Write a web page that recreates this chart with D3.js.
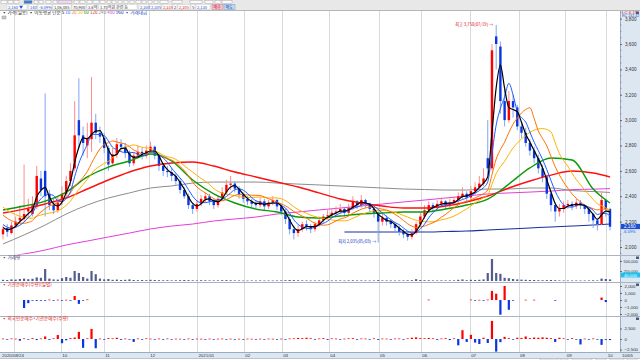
<!DOCTYPE html>
<html><head><meta charset="utf-8">
<script src="https://cdn.jsdelivr.net/npm/d3@7"></script>
<style>body{margin:0;background:#fff;overflow:hidden}svg{display:block}</style>
</head><body><svg id="c" width="640" height="360"></svg>
<script>
// ---------- DATA ----------
const openP = [2100,2150,2110,2170,2210,2220,2280,2260,2320,2540,
2600,2420,2330,2290,2360,2420,2520,2620,3000,2880,
2800,2850,2980,2900,2860,2780,2660,2730,2810,2790,
2740,2660,2720,2750,2720,2760,2790,2720,2640,2600,
2590,2560,2520,2450,2400,2330,2300,2340,2380,2400,
2360,2330,2380,2430,2490,2500,2460,2410,2380,2360,
2340,2330,2360,2320,2350,2370,2320,2280,2220,2140,
2110,2140,2180,2160,2140,2180,2210,2240,2250,2270,
2280,2300,2270,2310,2360,2330,2370,2340,2300,2270,
2200,2230,2200,2180,2150,2120,2100,2080,2110,2180,
2240,2290,2330,2310,2340,2360,2330,2350,2370,2400,
2420,2390,2440,2470,2500,2700,2620,3660,3580,3150,
3000,3150,3100,2950,2900,2820,2760,2700,2620,2550,
2420,2330,2280,2300,2330,2340,2320,2350,2330,2300,
2260,2210,2180,2370,2300];
const highP = [2170,2180,2200,2240,2330,2650,2380,2400,2640,2600,
3210,2450,2380,2400,2480,2560,2660,3150,3330,2950,
2980,3340,3050,2950,2900,2800,2780,2860,2850,2820,
2760,2750,2800,2780,2800,2830,2800,2730,2660,2640,
2620,2580,2540,2470,2420,2350,2370,2410,2430,2420,
2380,2400,2470,2530,2560,2520,2480,2430,2400,2380,
2370,2390,2380,2370,2400,2380,2340,2300,2240,2170,
2170,2200,2210,2180,2200,2240,2260,2290,2300,2320,
2340,2310,2340,2400,2370,2410,2380,2350,2310,2280,
2260,2250,2220,2200,2170,2140,2120,2140,2200,2270,
2330,2360,2350,2370,2390,2370,2380,2400,2430,2470,
2440,2480,2510,2560,2620,3000,3600,3750,3620,3250,
3230,3200,3120,2990,2940,2850,2790,2730,2650,2570,
2440,2350,2340,2360,2370,2360,2380,2370,2340,2310,
2270,2230,2440,2380,2310];
const lowP = [2060,2080,2100,2150,2180,2200,2230,2240,2300,2400,
2240,2290,2260,2270,2330,2400,2480,2600,2780,2720,
2700,2750,2850,2820,2740,2600,2640,2700,2760,2700,
2630,2640,2700,2690,2700,2740,2690,2600,2560,2550,
2520,2490,2420,2380,2300,2260,2280,2320,2350,2330,
2300,2310,2360,2410,2450,2430,2380,2350,2330,2310,
2300,2310,2290,2300,2330,2290,2250,2180,2100,2060,
2080,2120,2130,2110,2120,2160,2190,2220,2230,2250,
2260,2240,2250,2290,2300,2310,2310,2270,2230,2035,
2170,2170,2150,2120,2090,2070,2050,2060,2100,2160,
2220,2270,2280,2290,2320,2300,2310,2330,2340,2380,
2360,2370,2420,2450,2480,2560,2600,3400,3050,2950,
2980,3020,2920,2860,2790,2720,2660,2580,2510,2380,
2280,2200,2240,2270,2300,2290,2300,2300,2260,2200,
2150,2130,2170,2240,2130];
const closeP = [2140,2120,2170,2200,2230,2260,2300,2330,2560,2450,
2400,2330,2290,2350,2420,2520,2600,2880,2880,2820,
2860,2980,2900,2870,2780,2650,2730,2810,2790,2740,
2660,2720,2750,2720,2760,2790,2720,2640,2600,2590,
2560,2520,2450,2400,2330,2300,2340,2380,2400,2360,
2330,2380,2430,2490,2500,2460,2410,2380,2360,2340,
2330,2360,2320,2350,2370,2320,2280,2220,2140,2110,
2140,2180,2160,2140,2180,2210,2240,2250,2270,2280,
2300,2270,2310,2360,2330,2370,2340,2300,2270,2200,
2230,2200,2180,2150,2120,2100,2080,2110,2180,2240,
2290,2330,2310,2340,2360,2330,2350,2370,2400,2420,
2390,2440,2470,2500,2540,2620,3550,3600,3150,3000,
3150,3100,2950,2900,2820,2760,2700,2620,2550,2420,
2330,2280,2300,2330,2340,2320,2350,2330,2300,2260,
2210,2180,2370,2300,2160];
const seedCloses = [2480,2470,2450,2440,2420,2400,2380,2350,2330,2300,2270,2230,2200,2170,2150];
const volume = [30000,25000,40000,35000,50000,60000,45000,55000,90000,80000,
300000,60000,40000,35000,70000,100000,80000,250000,200000,100000,
60000,250000,170000,60000,40000,50000,30000,35000,25000,30000,
40000,25000,20000,25000,20000,30000,25000,20000,18000,20000,
15000,18000,20000,25000,22000,18000,15000,20000,18000,15000,
14000,16000,20000,22000,18000,15000,14000,12000,12000,14000,
12000,15000,12000,13000,12000,14000,16000,20000,25000,22000,
18000,15000,14000,12000,13000,15000,14000,12000,13000,14000,
15000,12000,16000,18000,14000,15000,13000,12000,14000,22000,
15000,14000,13000,12000,14000,15000,18000,20000,45000,25000,
20000,18000,15000,14000,16000,15000,14000,16000,30000,40000,
20000,30000,25000,30000,40000,200000,550000,200000,180000,80000,
70000,50000,40000,35000,30000,25000,25000,20000,20000,22000,
25000,20000,15000,14000,13000,12000,14000,12000,13000,15000,
18000,15000,60000,50000,40000];
const instNet = [null,null,null,null,null,-1150,-450,-100,-120,-60,
-80,60,-40,50,-60,40,-50,570,-550,-100,
80,null,null,null,null,null,null,null,null,null,
null,null,null,null,null,null,null,null,null,null,
null,null,null,null,null,null,null,null,null,null,
null,null,null,null,null,null,null,null,null,null,
null,null,null,null,null,null,null,null,null,null,
null,null,null,null,null,null,null,null,null,null,
null,null,null,null,null,null,null,null,null,null,
null,null,null,null,null,null,null,null,null,null,
null,60,null,null,null,null,null,null,null,null,
null,60,-40,30,-50,60,1300,900,-2100,2000,
-1400,-60,null,null,40,null,40,null,null,null,
null,-60,null,null,null,null,null,null,null,null,
null,null,350,-300,null];
const frgnNet = [100,-150,120,80,-400,150,-100,200,-250,120,
600,-200,150,950,-1000,-300,200,350,1700,-2100,
150,2400,-2200,100,-150,200,150,300,-200,100,
-150,-700,120,-100,150,80,-120,100,-80,120,
-100,80,60,-90,100,-70,80,60,-60,90,
-80,70,100,-60,80,-90,60,-70,80,60,
-80,70,-60,90,60,-70,80,-100,120,150,
250,200,300,180,-150,120,200,-200,150,100,
-120,90,150,200,-150,120,100,-100,150,-200,
100,80,-90,100,120,-100,150,300,400,200,
180,250,150,-200,120,200,-250,150,-1500,2100,
-700,1000,-850,-1200,300,-950,4300,-3000,-750,500,
200,-150,300,250,600,200,350,300,400,300,
200,-700,300,150,-100,200,-150,-1300,100,-150,
120,-100,-1400,-200,-250];
const longIdx = [0,5,10,15,20,25,30,35,40,45,50,55,60,65,70,75,80,85,90,95,100,105,110,115,120,125,130,135,140,144];
const ma60 = [2292,2323,2362,2433,2552,2630,2678,2733,2678,2528,2418,2347,2299,2276,2236,2228,2244,2260,2268,2276,2276,2299,2331,2378,2496,2623,2701,2686,2457,2347];
const ma120 = [2268,2299,2339,2386,2457,2528,2591,2638,2662,2670,2638,2591,2552,2512,2473,2426,2378,2347,2323,2307,2307,2323,2355,2402,2465,2520,2567,2599,2583,2552];
const ma240 = [2024,2095,2173,2260,2331,2386,2426,2465,2481,2504,2512,2512,2512,2504,2496,2489,2481,2473,2465,2457,2453,2449,2449,2457,2457,2465,2465,2445,2437,2430];
const ma480 = [1921,1945,1976,2016,2047,2079,2110,2142,2165,2181,2205,2221,2236,2260,2276,2292,2307,2323,2339,2355,2370,2386,2402,2418,2426,2433,2441,2452,2456,2460];
const navyIdx = [81,85,90,95,100,105,110,115,120,125,130,135,140,144];
const navyVal = [2118,2118,2118,2118,2118,2122,2126,2134,2142,2150,2158,2165,2173,2181];
const monthIdx = [2.6,13.7,23.9,34.6,46,57.1,66.1,77.3,89.1,99.1,110.7,122.3,133.4,143.1];
const monthLabels = ["","10","11","12","2021/01","02","03","04","05","06","07","08","09","10"];
const startLabel = "2020/08/24", endLabel = "10/05";
const priceTicks = [2000,2200,2400,2600,2800,3000,3200,3400,3600,3800];
const volTicks = [250000,500000];
const instTicks = [-2000,-1000,0,1000,2000];
const frgnTicks = [-2500,0,2500];

// ---------- DRAW ----------
const svg = d3.select("#c");
const KR = "'Noto Sans CJK KR','Noto Sans',sans-serif";
const NUM = "'Liberation Sans','DejaVu Sans',sans-serif";
const UP = "#ff0000", DN = "#0a36e0", UPW = "#ff8c8c", DNW = "#7fa6f2";
svg.append("rect").attr("width",640).attr("height",360).attr("fill","#fff");

const x = d3.scaleLinear().domain([0, closeP.length-1]).range([3, 610]);
const y = d3.scaleLinear().domain([2000, 3600]).range([247, 44]);
const yVol = d3.scaleLinear().domain([0, 500000]).range([281, 261]);
const yInst = d3.scaleLinear().domain([-2000, 2000]).range([314, 286]);
const yFrgn = d3.scaleLinear().domain([-2500, 2500]).range([349.5, 328.5]);

const defs = svg.append("defs");
defs.append("clipPath").attr("id","cm").append("rect").attr("x",0).attr("y",11).attr("width",620).attr("height",243.5);
defs.append("clipPath").attr("id","cv").append("rect").attr("x",0).attr("y",256).attr("width",620).attr("height",26);
defs.append("clipPath").attr("id","ci").append("rect").attr("x",0).attr("y",283).attr("width",620).attr("height",32.5);
defs.append("clipPath").attr("id","cf").append("rect").attr("x",0).attr("y",317).attr("width",620).attr("height",35);

// right axis background and date band
svg.append("rect").attr("x",620).attr("y",10).attr("width",20).attr("height",342).attr("fill","#dde7f2");
svg.append("line").attr("x1",620.5).attr("x2",620.5).attr("y1",10).attr("y2",352).attr("stroke","#9aabc4");
svg.append("rect").attr("x",0).attr("y",352).attr("width",640).attr("height",6).attr("fill","#dde7f2");
svg.append("line").attr("x1",0).attr("x2",640).attr("y1",352.5).attr("y2",352.5).attr("stroke","#9aabc4");
svg.append("line").attr("x1",0).attr("x2",640).attr("y1",358.5).attr("y2",358.5).attr("stroke","#b8c4d4");

// month gridlines
svg.append("g").selectAll("line").data(monthIdx).join("line")
  .attr("x1",d=>Math.round(x(d))+0.5).attr("x2",d=>Math.round(x(d))+0.5)
  .attr("y1",10).attr("y2",352).attr("stroke","#dadada").attr("stroke-width",1);

// panel separators
[255.5,282.5,316.5].forEach(v=>svg.append("line").attr("x1",0).attr("x2",640).attr("y1",v).attr("y2",v).attr("stroke","#a9b3c2"));

// ---------- main chart ----------
const gm = svg.append("g").attr("clip-path","url(#cm)");
const idx = d3.range(closeP.length);
const lineG = d3.line().defined(d=>d[1]!=null).x(d=>x(d[0])).y(d=>y(d[1])).curve(d3.curveMonotoneX);
function longSeries(ix, vals){ return ix.map((v,k)=>[v, vals[k]]); }
function drawLine(data,color,w){ gm.append("path").datum(data).attr("d",lineG).attr("fill","none").attr("stroke",color).attr("stroke-width",w).attr("stroke-linejoin","round"); }

drawLine(longSeries(longIdx, ma480), "#e23ed8", 1.0);
drawLine(longSeries(longIdx, ma240), "#8c8c8c", 1.0);
drawLine(longSeries(navyIdx, navyVal), "#1a2ea0", 1.1);

// candles
gm.append("g").selectAll("line").data(idx).join("line")
  .attr("x1",i=>x(i)).attr("x2",i=>x(i)).attr("y1",i=>y(highP[i])).attr("y2",i=>y(lowP[i]))
  .attr("stroke",i=>closeP[i]>=openP[i]?UPW:DNW).attr("stroke-width",1);
gm.append("g").selectAll("rect").data(idx).join("rect")
  .attr("x",i=>x(i)-1.2).attr("width",2.4)
  .attr("y",i=>y(Math.max(openP[i],closeP[i])))
  .attr("height",i=>Math.max(1,Math.abs(y(openP[i])-y(closeP[i]))))
  .attr("fill",i=>closeP[i]>=openP[i]?UP:DN);

// computed short MAs
const allC = seedCloses.concat(closeP), S = seedCloses.length;
function ma(n){ return idx.map(i=>[i, d3.mean(allC.slice(i+S-n+1, i+S+1))]); }
drawLine(longSeries(longIdx, ma120), "#ff1010", 1.4);
drawLine(longSeries(longIdx, ma60), "#0a9a0a", 1.4);
drawLine(ma(15), "#ffb000", 1.0);
drawLine(ma(10), "#ff7000", 1.0);
drawLine(ma(5), "#1e5cff", 1.0);
drawLine(ma(3), "#000000", 1.2);

// hi/lo annotations
const hiI = d3.maxIndex(highP), loI = d3.minIndex(lowP);
svg.append("text").attr("x",x(hiI)-3).attr("y",y(highP[hiI])+1.5).attr("text-anchor","end")
  .attr("font-family",KR).attr("font-size",4.2).attr("fill","#e01010")
  .text("최고 "+d3.format(",")(highP[hiI])+"(07/19) →");
svg.append("text").attr("x",x(loI)-2).attr("y",y(lowP[loI])+0.5).attr("text-anchor","end")
  .attr("font-family",KR).attr("font-size",4.2).attr("fill","#1030c0")
  .text("최저 "+d3.format(",")(lowP[loI])+"(05/03) →");

// ---------- volume ----------
const gv = svg.append("g").attr("clip-path","url(#cv)");
gv.selectAll("rect").data(idx).join("rect")
  .attr("x",i=>x(i)-1.1).attr("width",2.2)
  .attr("y",i=>yVol(volume[i])).attr("height",i=>Math.max(0.6,yVol(0)-yVol(volume[i])))
  .attr("fill","#545c8e");

// ---------- inst net ----------
const gi = svg.append("g").attr("clip-path","url(#ci)");
gi.selectAll("rect").data(idx.filter(i=>instNet[i]!=null)).join("rect")
  .attr("x",i=>x(i)-1.1).attr("width",2.2)
  .attr("y",i=>Math.min(yInst(0),yInst(instNet[i]))).attr("height",i=>Math.max(0.7,Math.abs(yInst(instNet[i])-yInst(0))))
  .attr("fill",i=>instNet[i]>=0?UP:DN);

// ---------- foreign net ----------
const gf = svg.append("g").attr("clip-path","url(#cf)");
gf.selectAll("rect").data(idx).join("rect")
  .attr("x",i=>x(i)-1.1).attr("width",2.2)
  .attr("y",i=>Math.min(yFrgn(0),yFrgn(frgnNet[i]))).attr("height",i=>Math.max(0.7,Math.abs(yFrgn(frgnNet[i])-yFrgn(0))))
  .attr("fill",i=>frgnNet[i]>=0?UP:DN);

// ---------- axes ----------
function rAxis(scale, ticks, fmt, fs, pad){
  const g = svg.append("g").attr("transform","translate(620,0)")
    .call(d3.axisRight(scale).tickValues(ticks).tickFormat(fmt).tickSize(2).tickPadding(pad));
  g.select(".domain").remove();
  g.attr("font-size",fs).attr("font-family",NUM);
  g.selectAll("text").attr("fill","#333");
  g.selectAll("line").attr("stroke","#666");
  return g;
}
rAxis(y, priceTicks, d3.format(","), 4.6, 3);
// minor ticks on price axis
svg.append("g").selectAll("line").data(d3.range(1950,3860,50).filter(v=>v%200!==0)).join("line")
  .attr("x1",620).attr("x2",621.5).attr("y1",d=>y(d)).attr("y2",d=>y(d)).attr("stroke","#777").attr("stroke-width",0.6);
rAxis(yVol, volTicks, d3.format(","), 4, 1.5);
rAxis(yInst, instTicks, d3.format(","), 4.4, 2.5);
rAxis(yFrgn, frgnTicks, d3.format(","), 4.4, 2.5);

// current price box
const last = closeP.length-1;
svg.append("rect").attr("x",621).attr("y",y(closeP[last])-2.8).attr("width",19).attr("height",5.2).attr("fill","#1c4fd6");
svg.append("text").attr("x",624).attr("y",y(closeP[last])+1.6).attr("font-family",NUM).attr("font-size",4.6).attr("fill","#fff").text(d3.format(",")(closeP[last]));
svg.append("text").attr("x",623).attr("y",y(closeP[last])+6).attr("font-family",NUM).attr("font-size",4).attr("fill","#1c4fd6").text("-6.09%");
// volume box
svg.append("rect").attr("x",621).attr("y",272.6).attr("width",19).attr("height",4.8).attr("fill","#19c3f0");
svg.append("text").attr("x",624).attr("y",276.5).attr("font-family",NUM).attr("font-size",4.2).attr("fill","#fff").text(d3.format(",")(volume[last]));
// top-right axis header
svg.append("text").attr("x",622).attr("y",13.5).attr("font-family",NUM).attr("font-size",4.4).attr("fill","#e02020").text("LC 6.19");
svg.append("text").attr("x",622).attr("y",16.5).attr("font-family",NUM).attr("font-size",3.6).attr("fill","#2050d0").text("RC 242.42");
// small panel markers
[11.5,256.5,283.5,317.5].forEach(v=>svg.append("rect").attr("x",636).attr("y",v).attr("width",3).attr("height",2.5).attr("fill","#4a5a78"));

// date labels
svg.append("g").selectAll("text").data(monthIdx.map((d,k)=>[d,monthLabels[k]]).filter(d=>d[1])).join("text")
  .attr("x",d=>x(d[0])+1.5).attr("y",357).attr("font-family",NUM).attr("font-size",4.4).attr("fill","#333").text(d=>d[1]);
svg.append("text").attr("x",2).attr("y",357).attr("font-family",NUM).attr("font-size",4.4).attr("fill","#333").text(startLabel);
svg.append("text").attr("x",622).attr("y",357).attr("font-family",NUM).attr("font-size",4.4).attr("fill","#333").text(endLabel);

// panel labels
svg.append("text").attr("x",2).attr("y",259).attr("font-family",KR).attr("font-size",4.6).attr("fill","#3a3a6a").text("▪ 거래량");
svg.append("text").attr("x",2).attr("y",286).attr("font-family",KR).attr("font-size",4.6).attr("fill","#e02020").text("▪ 기관순매수(수량)(일별)");
svg.append("text").attr("x",2).attr("y",320).attr("font-family",KR).attr("font-size",4.6).attr("fill","#e02020").text("▪ 외국인순매수+기관순매수(수량)");

// main legend
const lg = svg.append("text").attr("x",2).attr("y",14).attr("font-family",KR).attr("font-size",4.6);
[["▪ 가격(일봉) ","#222"],["▪ 이동평균 단순 ","#222"],["5 ","#000"],["10 ","#1e5cff"],["20 ","#ff7000"],["30 ","#ffb000"],["60 ","#0a9a0a"],
 ["120 ","#ff1010"],["240 ","#8c8c8c"],["480 ","#e23ed8"],["960 ","#1a2ea0"],["▪ 거래대금","#2040d0"]]
 .forEach(([t,c])=>lg.append("tspan").attr("fill",c).text(t));
svg.append("rect").attr("x",2).attr("y",16).attr("width",4).attr("height",3).attr("fill","#c8c8c8").attr("stroke","#888").attr("stroke-width",0.4);

// ---------- toolbar ----------
svg.append("rect").attr("x",0).attr("y",0).attr("width",640).attr("height",10).attr("fill","#e8e8e8");
svg.append("line").attr("x1",0).attr("x2",640).attr("y1",10.5).attr("y2",10.5).attr("stroke","#b5b5b5");
const tb1 = [[1,6],[8,5],[14,5],[24,8,"#3a7bd5"],[34,4],[39,4],[46,5],[53,4],[58,14,"#f0d8f0"],[74,5],[80,5],[87,5],[93,6],[100,5],[107,4],[112,4],[118,4],[124,4],[130,4],[136,5],[142,4],[148,4],[154,4],[160,8],[172,10],[190,12],[205,8],[215,6],[222,10]];
tb1.forEach(([a,w,c])=>svg.append("rect").attr("x",a).attr("y",0.5).attr("width",w).attr("height",3).attr("fill",c||"#fafafa").attr("stroke","#9a9a9a").attr("stroke-width",0.4));
const tb2 = [[7,"2,160 ▼","#1c4fd6",20],[29,"140","#1c4fd6",8],[38,"-6.09%","#1c4fd6",14],[53,"1,06,085","#333",18],[72,"70,900","#333",14],[87,"3.6억","#333",10],[99,"1.70억원 관련 등","#333",38],[139,"2,300","#1c4fd6",10],[150,"2,305","#1c4fd6",11],[162,"2,335","#e02020",10],[173,"2","#333",4],[178,"2,305","#e02020",12],[191,"5","#333",4],[196,"2,130","#1c4fd6",14]];
tb2.forEach(([a,t,c,w])=>{
  svg.append("rect").attr("x",a).attr("y",4.5).attr("width",w).attr("height",4.8).attr("fill","#fff").attr("stroke","#c4c4c4").attr("stroke-width",0.4);
  svg.append("text").attr("x",a+1).attr("y",8.6).attr("font-family",KR).attr("font-size",4).attr("fill",c).text(t);
});
svg.append("rect").attr("x",212).attr("y",4.5).attr("width",11).attr("height",4.8).attr("fill","#f3c8cf").attr("stroke","#b58").attr("stroke-width",0.4);
svg.append("text").attr("x",213.5).attr("y",8.6).attr("font-family",KR).attr("font-size",4).attr("fill","#c01030").text("매수");
svg.append("rect").attr("x",224).attr("y",4.5).attr("width",11).attr("height",4.8).attr("fill","#c8dcf3").attr("stroke","#58b").attr("stroke-width",0.4);
svg.append("text").attr("x",225.5).attr("y",8.6).attr("font-family",KR).attr("font-size",4).attr("fill","#1040b0").text("매도");
// bottom status buttons
[[540,8],[550,8],[560,8],[572,20],[596,10],[610,14],[627,10]].forEach(([a,w])=>svg.append("rect").attr("x",a).attr("y",358.6).attr("width",w).attr("height",1.4).attr("fill","#f4f4f4").attr("stroke","#999").attr("stroke-width",0.3));
</script></body></html>
